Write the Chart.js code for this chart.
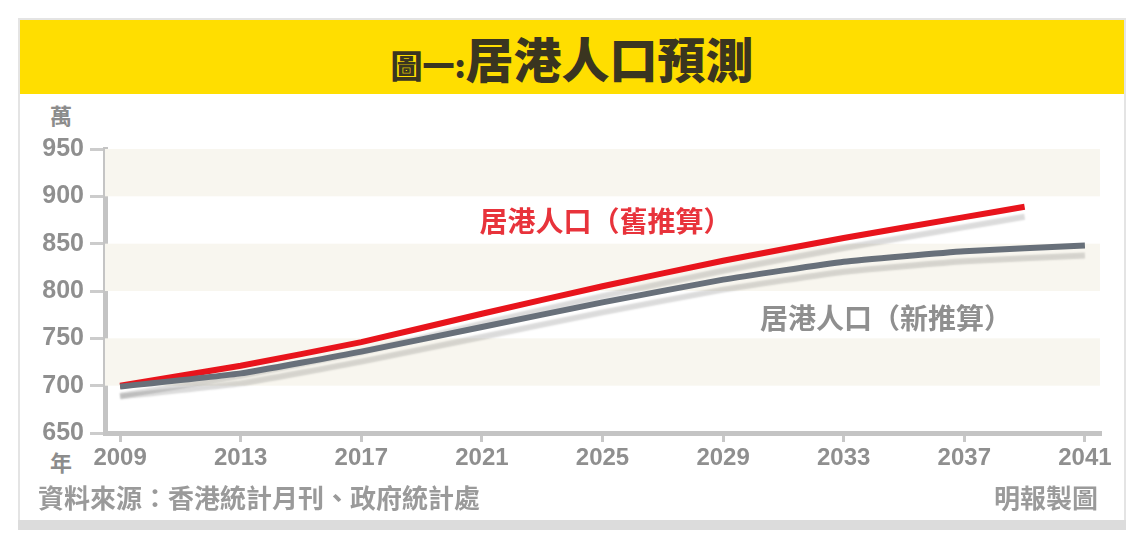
<!DOCTYPE html>
<html>
<head>
<meta charset="utf-8">
<script src="https://cdn.jsdelivr.net/npm/chart.js@4"></script>
<style>
  html, body { margin: 0; padding: 0; background: #fff; }
  body { width: 1144px; height: 540px; position: relative; overflow: hidden;
         font-family: "Noto Sans CJK TC", "Noto Sans", sans-serif; }
  .card { position: absolute; left: 18px; top: 18px; width: 1104px; height: 500px;
          border: 2px solid #e4e4e4; background: #fff; }
  .shade { position: absolute; left: 18px; top: 520px; width: 1108px; height: 10px; background: #dcdcdc; }
  .head { position: absolute; left: 20px; top: 20px; width: 1104px; height: 74px; background: #ffde00;
          text-align: center; line-height: 74px; color: #3a3520; font-weight: 900; }
  .head .s { font-size: 32px; }
  .head .b { font-size: 48px; }
  #wrap { position: absolute; left: 20px; top: 95px; width: 1104px; height: 385px; }
  .lbl { position: absolute; color: #8c8c8c; font-weight: 700; font-size: 22px; }
  .foot { position: absolute; top: 478px; color: #9a9a9a; font-size: 26px; font-weight: 700; }
</style>
</head>
<body>
<div class="card"></div>
<div class="shade"></div>
<div class="head"><span class="s">圖一:</span><span class="b">居港人口預測</span></div>
<div class="lbl" style="left:50px;top:98px;">萬</div>
<div class="lbl" style="left:50px;top:445px;">年</div>
<div id="wrap"><canvas id="chart"></canvas></div>
<div class="foot" style="left:38px;">資料來源：香港統計月刊、政府統計處</div>
<div class="foot" style="left:994px;">明報製圖</div>
<script>
// 年份刻度
const xTicks = [2009, 2013, 2017, 2021, 2025, 2029, 2033, 2037, 2041];
const yTicks = [650, 700, 750, 800, 850, 900, 950];

// 舊推算（紅線）
const oldYears = [2009, 2013, 2017, 2021, 2025, 2029, 2033, 2037, 2039];
const oldPop   = [700, 721, 746, 776, 805, 832, 856, 878, 889];

// 新推算（灰線）
const newYears = [2009, 2013, 2017, 2021, 2025, 2029, 2033, 2037, 2041];
const newPop   = [699, 713, 736, 762, 788, 812, 831, 842, 848];

const seriesNames = ['居港人口（舊推算）', '居港人口（新推算）'];

function pts(xs, ys) {
    return xs.map((x, i) => ({ x: x, y: ys[i] }));
}

const bands = {
    id: 'bands',
    beforeDatasetsDraw(chart) {
        const { ctx, chartArea, scales } = chart;
        ctx.save();
        ctx.fillStyle = '#f8f6ef';
        for (let i = yTicks.length - 1; i > 0; i -= 2) {
            const top = scales.y.getPixelForValue(yTicks[i]);
            const bot = scales.y.getPixelForValue(yTicks[i - 1]);
            ctx.fillRect(chartArea.left, top, chartArea.right - chartArea.left, bot - top);
        }
        ctx.restore();
    }
};

const shadow = {
    id: 'shadow',
    beforeDatasetDraw(chart) {
        const ctx = chart.ctx;
        ctx.save();
        ctx.shadowColor = 'rgba(0,0,0,0.14)';
        ctx.shadowOffsetY = 10;
        ctx.shadowBlur = 2;
    },
    afterDatasetDraw(chart) {
        chart.ctx.restore();
    }
};

// 線旁文字
const lineLabels = {
    id: 'lineLabels',
    afterDatasetsDraw(chart) {
        const { ctx, scales } = chart;
        const spots = [[2025.1, 874, '#e8333b'], [2034.4, 771, '#8f8f8f']];
        ctx.save();
        ctx.font = '700 28px "Noto Sans CJK TC"';
        ctx.textAlign = 'center';
        ctx.textBaseline = 'middle';
        spots.forEach((s, i) => {
            ctx.fillStyle = s[2];
            ctx.fillText(seriesNames[i], scales.x.getPixelForValue(s[0]), scales.y.getPixelForValue(s[1]));
        });
        ctx.restore();
    }
};

new Chart(document.getElementById('chart'), {
    type: 'line',
    data: {
        datasets: [
            {
                label: seriesNames[1],
                data: pts(newYears, newPop),
                borderColor: '#68707a',
                borderWidth: 6,
                pointRadius: 0,
                tension: 0.12
            },
            {
                label: seriesNames[0],
                data: pts(oldYears, oldPop),
                borderColor: '#e8141c',
                borderWidth: 6,
                pointRadius: 0,
                tension: 0.12
            }
        ]
    },
    options: {
        responsive: true,
        maintainAspectRatio: false,
        animation: false,
        layout: { padding: { top: 54, right: 24, left: 0, bottom: 0 } },
        plugins: { legend: { display: false }, tooltip: { enabled: false } },
        scales: {
            x: {
                type: 'linear',
                min: 2008.5,
                max: 2041.5,
                afterBuildTicks(scale) { scale.ticks = xTicks.map(v => ({ value: v })); },
                afterFit(scale) { scale.height = 47; },
                grid: { drawOnChartArea: false, tickLength: 9, color: '#c8c8c8', lineWidth: 3 },
                border: { color: '#c4c4c4', width: 5 },
                ticks: {
                    color: '#8f8f8f', padding: 2,
                    font: { family: 'Liberation Sans', size: 24, weight: 'bold' },
                    callback: v => String(v)
                }
            },
            y: {
                min: 650,
                max: 950,
                afterBuildTicks(scale) { scale.ticks = yTicks.map(v => ({ value: v })); },
                afterFit(scale) { scale.width = 85; },
                grid: { drawOnChartArea: false, tickLength: 15, color: '#cccccc', lineWidth: 3 },
                border: { color: '#c4c4c4', width: 5 },
                ticks: {
                    color: '#8f8f8f', padding: 6,
                    font: { family: 'Liberation Sans', size: 25, weight: 'bold' }
                }
            }
        }
    },
    plugins: [bands, shadow, lineLabels]
});
</script>
</body>
</html>
